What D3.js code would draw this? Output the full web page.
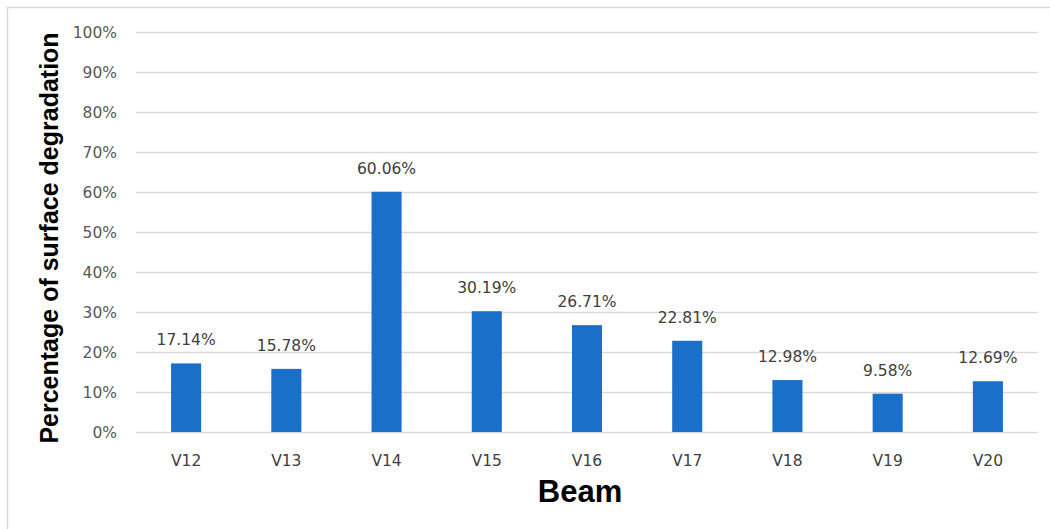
<!DOCTYPE html>
<html>
<head>
<meta charset="utf-8">
<script src="https://cdn.jsdelivr.net/npm/d3@7"></script>
<style>
  body { margin: 0; background: #fff; }
  svg { display: block; }
</style>
</head>
<body>
<div id="chart"></div>
<script>
// data
var beams = ["V12", "V13", "V14", "V15", "V16", "V17", "V18", "V19", "V20"];
var degradation = [17.14, 15.78, 60.06, 30.19, 26.71, 22.81, 12.98, 9.58, 12.69];
var yTicks = [0, 10, 20, 30, 40, 50, 60, 70, 80, 90, 100];

var W = 1050, H = 529;
// plot area edges (don't call it "top", window.top is read-only)
var plotLeft = 136, plotRight = 1038, plotTop = 32, plotBottom = 432;

var svg = d3.select("#chart").append("svg")
  .attr("width", W)
  .attr("height", H);

// outer frame (only top/left visible in the picture)
svg.append("rect")
  .attr("x", 7.5).attr("y", 7.5)
  .attr("width", W + 20).attr("height", H + 20)
  .attr("fill", "none")
  .attr("stroke", "#d9d9d9")
  .attr("stroke-width", 1.5);

var x = d3.scaleBand().domain(beams).range([plotLeft, plotRight]).paddingInner(0.7).paddingOuter(0.35);
var y = d3.scaleLinear().domain([0, 100]).range([plotBottom, plotTop]);

// gridlines
svg.append("g").selectAll("line")
  .data(yTicks)
  .enter().append("line")
  .attr("x1", plotLeft).attr("x2", plotRight)
  .attr("y1", d => y(d) + 0.5).attr("y2", d => y(d) + 0.5)
  .attr("stroke", "#d9d9d9")
  .attr("stroke-width", 1.3);

// y tick labels
svg.append("g").selectAll("text")
  .data(yTicks)
  .enter().append("text")
  .attr("x", 117)
  .attr("y", d => y(d) + 6)
  .attr("text-anchor", "end")
  .attr("font-family", "DejaVu Sans, sans-serif")
  .attr("font-size", 15.5)
  .attr("fill", "#595959")
  .text(d => d + "%");

// bars
var data = beams.map((b, i) => ({ beam: b, value: degradation[i] }));

svg.append("g").selectAll("rect")
  .data(data)
  .enter().append("rect")
  .attr("x", d => x(d.beam))
  .attr("y", d => y(d.value))
  .attr("width", x.bandwidth())
  .attr("height", d => y(0) - y(d.value))
  .attr("fill", "#1a6fc9");

// value labels
svg.append("g").selectAll("text")
  .data(data)
  .enter().append("text")
  .attr("x", d => x(d.beam) + x.bandwidth() / 2)
  .attr("y", d => y(d.value) - 18)
  .attr("text-anchor", "middle")
  .attr("font-family", "DejaVu Sans, sans-serif")
  .attr("font-size", 15.5)
  .attr("fill", "#404040")
  .text(d => d.value.toFixed(2) + "%");

// x labels
svg.append("g").selectAll("text")
  .data(beams)
  .enter().append("text")
  .attr("x", d => x(d) + x.bandwidth() / 2)
  .attr("y", 466)
  .attr("text-anchor", "middle")
  .attr("font-family", "DejaVu Sans, sans-serif")
  .attr("font-size", 15.5)
  .attr("fill", "#404040")
  .text(d => d);

// axis titles
svg.append("text")
  .attr("x", 580)
  .attr("y", 502)
  .attr("text-anchor", "middle")
  .attr("font-family", "Liberation Sans, Arial, sans-serif")
  .attr("font-weight", "bold")
  .attr("font-size", 31)
  .attr("fill", "#000")
  .text("Beam");

svg.append("text")
  .attr("transform", "translate(58,238) rotate(-90)")
  .attr("text-anchor", "middle")
  .attr("font-family", "Liberation Sans, Arial, sans-serif")
  .attr("font-weight", "bold")
  .attr("font-size", 25)
  .attr("fill", "#000")
  .text("Percentage of surface degradation");
</script>
</body>
</html>
